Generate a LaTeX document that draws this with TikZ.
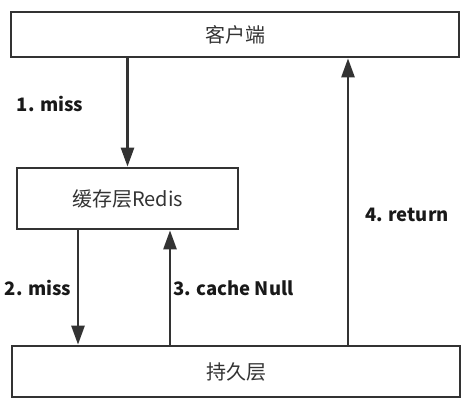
\documentclass[tikz,border=0pt]{standalone}
\usepackage{fontspec}
\newfontfamily\cjk{Noto Sans CJK SC}
\usetikzlibrary{arrows.meta}
\definecolor{linegray}{HTML}{333333}

\begin{document}
\begin{tikzpicture}[x=1pt,y=-1pt,
  tier/.style={draw=linegray,line width=2.7pt,minimum height=#1,inner sep=0pt,
    font=\cjk\fontsize{20}{24}\selectfont,text=linegray},
  flow/.style={-{Triangle[length=19pt,width=13pt]},draw=linegray,line width=2.6pt},
  steplabel/.style={font=\cjk\bfseries\fontsize{18.5}{22}\selectfont,text=black!90}]
\useasboundingbox (0,0) rectangle (470,403);

% Layers
\node[tier=45pt,minimum width=448pt] (client) at (235,34.5) {客户端};
\node[tier=61pt,minimum width=221pt] (cache) at (127.5,198.5) {缓存层Redis};
\node[tier=51pt,minimum width=448pt] (db) at (236,371.5) {持久层};

% Requests and returns
\draw[flow] (client.south -| cache.north) -- (cache.north);
\draw[flow] ([xshift=-49.5pt]cache.south) -- ([xshift=-49.5pt]cache.south |- db.north);
\draw[flow] ([xshift=42.5pt]cache.south |- db.north) -- ([xshift=42.5pt]cache.south);
\draw[flow] ([xshift=112pt]db.north) -- ([xshift=112pt]db.north |- client.south);

% Step labels
\node[steplabel] (l1) at (50,104) {1. miss};
\node[steplabel] (l2) at (38,288) {2. miss};
\node[steplabel,anchor=west,inner sep=0pt] (l3) at (173,288) {3. cache Null};
\node[steplabel] (l4) at (407,215) {4. return};
\end{tikzpicture}
\end{document}
